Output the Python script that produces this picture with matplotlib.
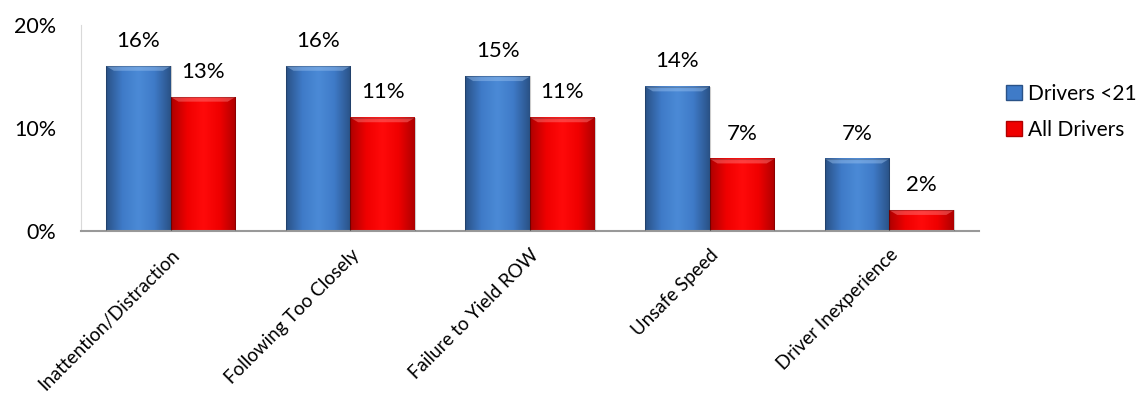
import numpy as np
import matplotlib.pyplot as plt
from matplotlib.patches import Patch
from matplotlib.colors import LinearSegmentedColormap

plt.rcParams['font.family'] = ['Lato', 'DejaVu Sans']

# data
causes = ['Inattention/Distraction', 'Following Too Closely', 'Failure to Yield ROW',
          'Unsafe Speed', 'Driver Inexperience']
young = [16, 16, 15, 14, 7]
all_drv = [13, 11, 11, 7, 2]
series_names = ['Drivers <21', 'All Drivers']

blue_cm = LinearSegmentedColormap.from_list('b', ['#2a5287', '#3f7bc8', '#4b8ad6', '#3f7bc8', '#2a5287'])
red_cm = LinearSegmentedColormap.from_list('r', ['#b00000', '#f00000', '#ff0a0a', '#f00000', '#b00000'])

fig = plt.figure(figsize=(11.4, 3.96), dpi=100)
ax = fig.add_axes([0.071, 0.417, 0.788, 0.52])

x = np.arange(len(causes))
w = 0.36
b1 = ax.bar(x - w/2, young, w, color='none', edgecolor='none')
b2 = ax.bar(x + w/2, all_drv, w, color='none', edgecolor='none')

ax.set_xlim(-0.5, len(causes) - 0.5)
ax.set_ylim(0, 20)


def shade(bars, cmap, top_col):
    for p in bars:
        x0, y0, bw, bh = p.get_x(), p.get_y(), p.get_width(), p.get_height()
        if bh <= 0:
            continue
        img = np.tile(np.linspace(0, 1, 64), (2, 1))
        ax.imshow(img, cmap=cmap, aspect='auto', extent=(x0, x0 + bw, y0, y0 + bh),
                  interpolation='bicubic', zorder=2)
        # top bevel
        bev = 0.45
        ax.fill([x0, x0 + bw, x0 + bw * 0.88, x0 + bw * 0.12],
                [y0 + bh, y0 + bh, y0 + bh - bev, y0 + bh - bev],
                color=top_col, alpha=0.45, lw=0, zorder=3)
        ax.add_patch(plt.Rectangle((x0, y0), bw, bh, fill=False, ec='#00000033', lw=0.8, zorder=4))


shade(b1, blue_cm, '#9cc3f0')
shade(b2, red_cm, '#ff8080')

for bars in (b1, b2):
    for p in bars:
        ax.annotate(f'{p.get_height():.0f}%', (p.get_x() + p.get_width()/2, p.get_height()),
                    xytext=(0, 11), textcoords='offset points', ha='center', va='bottom',
                    fontsize=16)

ax.set_yticks([0, 10, 20])
ax.set_yticklabels([f'{v}%' for v in [0, 10, 20]], fontsize=15.5)
ax.set_xticks(x)
ax.set_xticklabels(causes, rotation=45, ha='right', rotation_mode='anchor', fontsize=13.5)
ax.tick_params(axis='x', length=0, pad=11)
ax.tick_params(axis='y', length=0, pad=18)
for s in ['top', 'right']:
    ax.spines[s].set_visible(False)
ax.spines['left'].set_color('#d9d9d9')
ax.spines['bottom'].set_color('#999999')
ax.spines['bottom'].set_linewidth(1.5)

handles = [Patch(facecolor='#3f7bc8', edgecolor='#2a5287'), Patch(facecolor='#f00000', edgecolor='#b00000')]
fig.legend(handles, series_names, loc='upper left', bbox_to_anchor=(0.866, 0.835), frameon=False,
           fontsize=15, handlelength=0.75, handleheight=0.75, handletextpad=0.3, labelspacing=0.75)

fig.savefig('out.png')
